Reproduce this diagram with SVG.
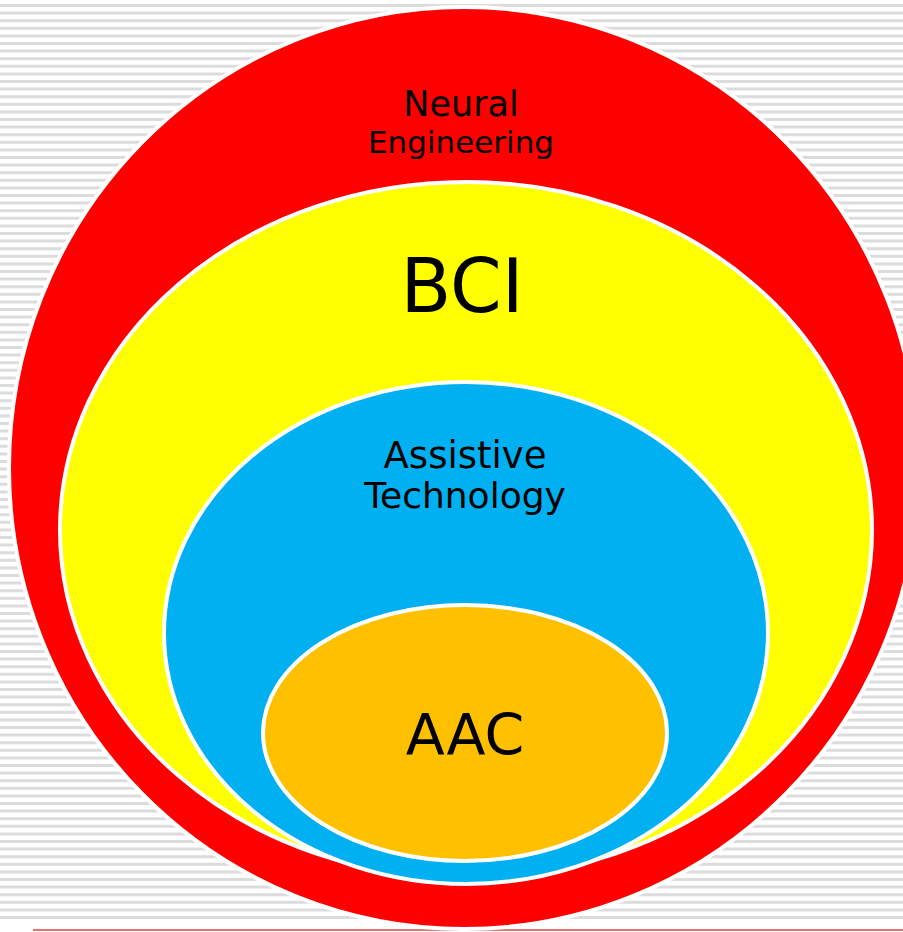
<svg xmlns="http://www.w3.org/2000/svg" width="903" height="932" viewBox="0 0 903 932">
  <style>
    .ring { stroke: #ffffff; stroke-width: 4; }
    .lbl { font-family: "DejaVu Sans", "Liberation Sans", sans-serif; fill: #000000; text-anchor: middle; }
  </style>
  <rect x="0" y="0" width="903" height="932" fill="#ffffff"/>
  <line x1="451.5" y1="4" x2="451.5" y2="923" stroke="#dcdcdc" stroke-width="903" stroke-dasharray="3 4.6"/>
  <line x1="33" y1="930" x2="903" y2="930" stroke="#e57373" stroke-width="2"/>

  <g id="neural-engineering">
    <ellipse class="ring" cx="464" cy="468" rx="455" ry="461" fill="#ff0000"/>
    <text class="lbl" x="461" y="116" font-size="35">Neural</text>
    <text class="lbl" x="461" y="153" font-size="31">Engineering</text>
  </g>
  <g id="bci">
    <ellipse class="ring" cx="466" cy="530" rx="406" ry="348" fill="#ffff00"/>
    <text class="lbl" x="462" y="312" font-size="74">BCI</text>
  </g>
  <g id="assistive-technology">
    <ellipse class="ring" cx="466" cy="633" rx="302" ry="251" fill="#00b0f0"/>
    <text class="lbl" x="465" y="468" font-size="37">Assistive</text>
    <text class="lbl" x="465" y="508" font-size="36">Technology</text>
  </g>
  <g id="aac">
    <ellipse class="ring" cx="465" cy="733" rx="202" ry="128" fill="#ffc000"/>
    <text class="lbl" x="465" y="755" font-size="57">AAC</text>
  </g>
  <g id="connectors"/>
</svg>
